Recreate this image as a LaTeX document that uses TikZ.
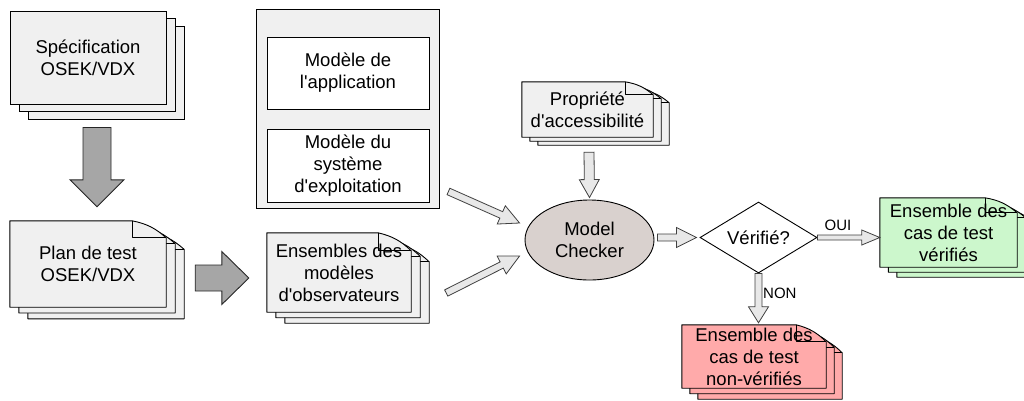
\documentclass[tikz,border=0pt]{standalone}
\usepackage{fontspec}
\setmainfont{Liberation Sans}
\usetikzlibrary{calc,shapes.geometric,shadows}

\definecolor{sheetgray}{HTML}{F0F0F0}
\definecolor{checkerfill}{HTML}{D9D1CE}
\definecolor{okgreen}{HTML}{CCF7CC}
\definecolor{kored}{HTML}{FFAAAA}
\definecolor{fatfill}{HTML}{A6A6A6}
\definecolor{thinfill}{HTML}{E8E8E8}

\pgfdeclarelayer{background}
\pgfsetlayers{background,main}

\tikzset{
  lbl/.style={align=center, font=\fontsize{18.5}{22}\selectfont, inner sep=0pt},
  tag/.style={font=\fontsize{15}{18}\selectfont, inner sep=0pt},
  sheet/.style={line width=0.9pt, draw=black, line join=round},
  fatarrow/.style={draw=black!85, fill=fatfill, line width=0.9pt},
  thinarrow/.style={draw=black!75, fill=thinfill, line width=0.8pt},
  pageshadow/.style={shadow xshift=#1*9pt, shadow yshift=-#1*7.5pt, fill=sheetgray, draw=black, line width=0.9pt}
}

% one page of a stack, behind the text node #1
\newcommand{\docsheet}[5]{%
  \path ([shift={#2}]#1.north west) coordinate (ds-nw)
        ([shift={#2}]#1.north east) coordinate (ds-ne)
        ([shift={#2}]#1.south east) coordinate (ds-se)
        ([shift={#2}]#1.south west) coordinate (ds-sw);
  \draw[sheet, fill=#3] (ds-sw) -- (ds-nw) -- ([xshift=-#4]ds-ne) to[bend left=15] ([yshift=-#5]ds-ne) -- (ds-se) -- cycle;
  \draw[sheet] ([xshift=-#4]ds-ne) -- ([xshift=-#4,yshift=-#5]ds-ne) -- ([yshift=-#5]ds-ne);
}
% node, fill, step x, step y, fold w, fold h
\newcommand{\docstack}[6]{%
  \foreach \k in {2,1,0}
    \docsheet{#1}{(\k*#3,-\k*#4)}{#2}{#5}{#6};
}
% block arrow: style, start, tip, shaft half width, head half width, head length
\newcommand{\blockarrow}[6][]{%
  \path #2 coordinate (ba-s) #3 coordinate (ba-t);
  \path ($(ba-t)!#6!(ba-s)$) coordinate (ba-h);
  \draw[#1] ($(ba-s)!#4!90:(ba-t)$) -- ($(ba-h)!#4!90:(ba-t)$) -- ($(ba-h)!#5!90:(ba-t)$) -- (ba-t)
    -- ($(ba-h)!#5!-90:(ba-t)$) -- ($(ba-h)!#4!-90:(ba-t)$) -- ($(ba-s)!#4!-90:(ba-t)$) -- cycle;
}

\begin{document}
\begin{tikzpicture}[x=1pt, y=-1pt]
    \useasboundingbox (0,0) rectangle (1024,400);

    % Specification and test plan
    \node[lbl, draw, fill=sheetgray, line width=0.9pt, minimum width=156pt, minimum height=93pt,
          copy shadow={pageshadow=2}, copy shadow={pageshadow=1}] (spec) at (88,57.5) {Spécification\\OSEK/VDX};
    \node[lbl, minimum width=156pt, minimum height=86pt] (plan) at (88,264) {Plan de test\\OSEK/VDX};

    % Models
    \node[draw, fill=sheetgray, line width=0.9pt, minimum width=183pt, minimum height=199pt] (system) at (347.5,108.5) {};
    \node[lbl, draw, fill=white, line width=0.9pt, minimum width=162pt, minimum height=72pt] (appmodel) at (348,73) {Modèle de\\l\textquotesingle application};
    \node[lbl, draw, fill=white, line width=0.9pt, minimum width=162pt, minimum height=73pt] (osmodel) at (348,165.5) {Modèle du\\système\\d\textquotesingle exploitation};
    \node[lbl, minimum width=144pt, minimum height=79pt] (observ) at (339,272.5) {Ensembles des\\modèles\\d\textquotesingle observateurs};

    % Checking
    \node[lbl, minimum width=131pt, minimum height=55pt] (prop) at (587.5,109.5) {Propriété\\d\textquotesingle accessibilité};
    \node[lbl, ellipse, draw, fill=checkerfill, line width=0.9pt, minimum width=129pt, minimum height=80pt] (checker) at (589.5,240) {Model\\Checker};
    \node[lbl, diamond, draw, fill=white, line width=0.9pt, aspect=1.65, minimum width=117pt, minimum height=71pt] (verif) at (758.5,237.5) {Vérifié?};

    % Results
    \node[lbl, minimum width=137pt, minimum height=69pt] (ok) at (948.5,232.5) {Ensemble des\\cas de test\\vérifiés};
    \node[lbl, minimum width=144pt, minimum height=63pt] (ko) at (754,356.5) {Ensemble des\\cas de test\\non-vérifiés};

    % Stacks of pages
    \begin{pgfonlayer}{background}
        \docstack{plan}{sheetgray}{9pt}{5.8pt}{34pt}{17pt}
        \docstack{observ}{sheetgray}{9pt}{5.5pt}{33pt}{18pt}
        \docstack{prop}{sheetgray}{8pt}{4pt}{28pt}{13pt}
        \docstack{ok}{okgreen}{8.5pt}{5pt}{32pt}{15pt}
        \docstack{ko}{kored}{8pt}{5.5pt}{30pt}{17pt}
    \end{pgfonlayer}

    % Arrows
    \blockarrow[fatarrow]{($(spec.south)+(9,23)$)}{($(plan.north)+(9,-14)$)}{14pt}{27pt}{27pt}
    \blockarrow[fatarrow]{($(plan.east)+(29,14)$)}{($(observ.west)+(-18,5.5)$)}{13pt}{26.5pt}{27pt}
    \blockarrow[thinarrow]{($(system.south east)+(9,-17)$)}{($(checker.west)+(-5,-17)$)}{3.5pt}{10pt}{20pt}
    \blockarrow[thinarrow]{($(observ.east)+(35,20.5)$)}{($(checker.west)+(-5,16)$)}{3.5pt}{10pt}{20pt}
    \blockarrow[thinarrow]{($(prop.south)+(1.5,15)$)}{($(checker.north)+(0,-2)$)}{5pt}{10pt}{18pt}
    \blockarrow[thinarrow]{($(checker.east)+(3,-2.5)$)}{($(verif.west)+(-3,0)$)}{3.5pt}{10pt}{20pt}
    \blockarrow[thinarrow]{(verif.east)}{($(ok.west)+(0,5)$)}{2.5pt}{7.5pt}{18pt}
    \blockarrow[thinarrow]{(verif.south)}{($(ko.north)+(4.5,-2)$)}{3.5pt}{10pt}{16pt}

    % Labels
    \node[tag] (oui) at (838,225) {OUI};
    \node[tag, anchor=west] (non) at (763,293) {NON};
\end{tikzpicture}
\end{document}
